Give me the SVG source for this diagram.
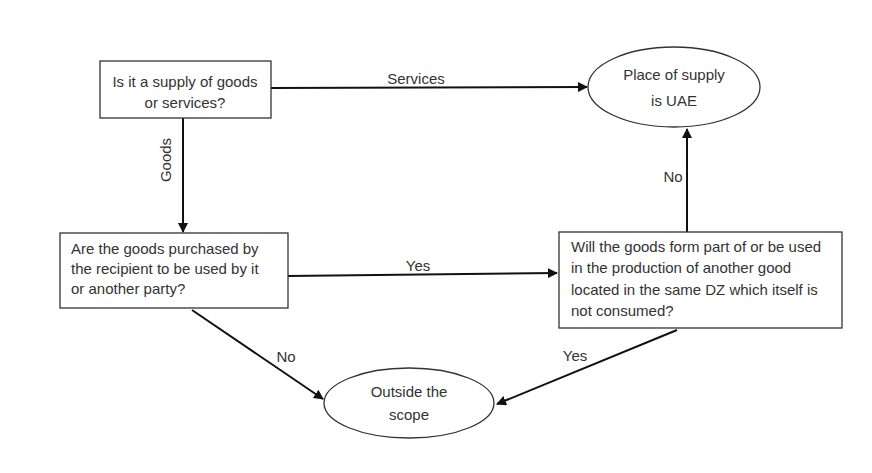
<svg xmlns="http://www.w3.org/2000/svg" width="872" height="473" viewBox="0 0 872 473">
<style>
.box{fill:#fff;stroke:#333;stroke-width:1.3}
.t{font-family:"Liberation Sans",Arial,sans-serif;font-size:15px;fill:#333}
.c{text-anchor:middle}
.e{stroke:#111;stroke-width:2;fill:none;marker-end:url(#ah)}
</style>
<defs>
<marker id="ah" viewBox="0 0 10 10" refX="9" refY="5" markerWidth="5" markerHeight="5" orient="auto" markerUnits="strokeWidth">
<path d="M0,0 L10,5 L0,10 z" fill="#111"/>
</marker>
</defs>
<rect width="872" height="473" fill="#fff"/>
<g id="connectors">
<line class="e" x1="271" y1="88" x2="587" y2="87"/>
<line class="e" x1="183" y1="118" x2="183" y2="232"/>
<line class="e" x1="288" y1="276" x2="557" y2="273"/>
<line class="e" x1="687" y1="232" x2="687" y2="129"/>
<line class="e" x1="192" y1="310" x2="323" y2="399"/>
<line class="e" x1="677" y1="330" x2="497" y2="404"/>
<text class="t c" x="416" y="84">Services</text>
<text class="t c" transform="translate(171,160) rotate(-90)">Goods</text>
<text class="t c" x="418" y="271">Yes</text>
<text class="t c" x="673" y="182">No</text>
<text class="t c" x="286" y="362">No</text>
<text class="t c" x="575" y="361">Yes</text>
</g>
<g id="n1">
<rect class="box" x="100" y="61" width="171" height="57"/>
<text class="t c" x="185" y="87">Is it a supply of goods</text>
<text class="t c" x="185" y="108">or services?</text>
</g>
<g id="n2">
<ellipse class="box" cx="674" cy="87" rx="86" ry="40"/>
<text class="t c" x="674" y="80">Place of supply</text>
<text class="t c" x="674" y="106">is UAE</text>
</g>
<g id="n3">
<rect class="box" x="60" y="233" width="228" height="75"/>
<text class="t" x="71" y="254">Are the goods purchased by</text>
<text class="t" x="71" y="274">the recipient to be used by it</text>
<text class="t" x="71" y="294">or another party?</text>
</g>
<g id="n4">
<rect class="box" x="559" y="232" width="283" height="96"/>
<text class="t" x="571" y="252">Will the goods form part of or be used</text>
<text class="t" x="571" y="273">in the production of another good</text>
<text class="t" x="571" y="295">located in the same DZ which itself is</text>
<text class="t" x="571" y="316">not consumed?</text>
</g>
<g id="n5">
<ellipse class="box" cx="409" cy="403" rx="85" ry="35"/>
<text class="t c" x="409" y="397">Outside the</text>
<text class="t c" x="409" y="420">scope</text>
</g>
</svg>
